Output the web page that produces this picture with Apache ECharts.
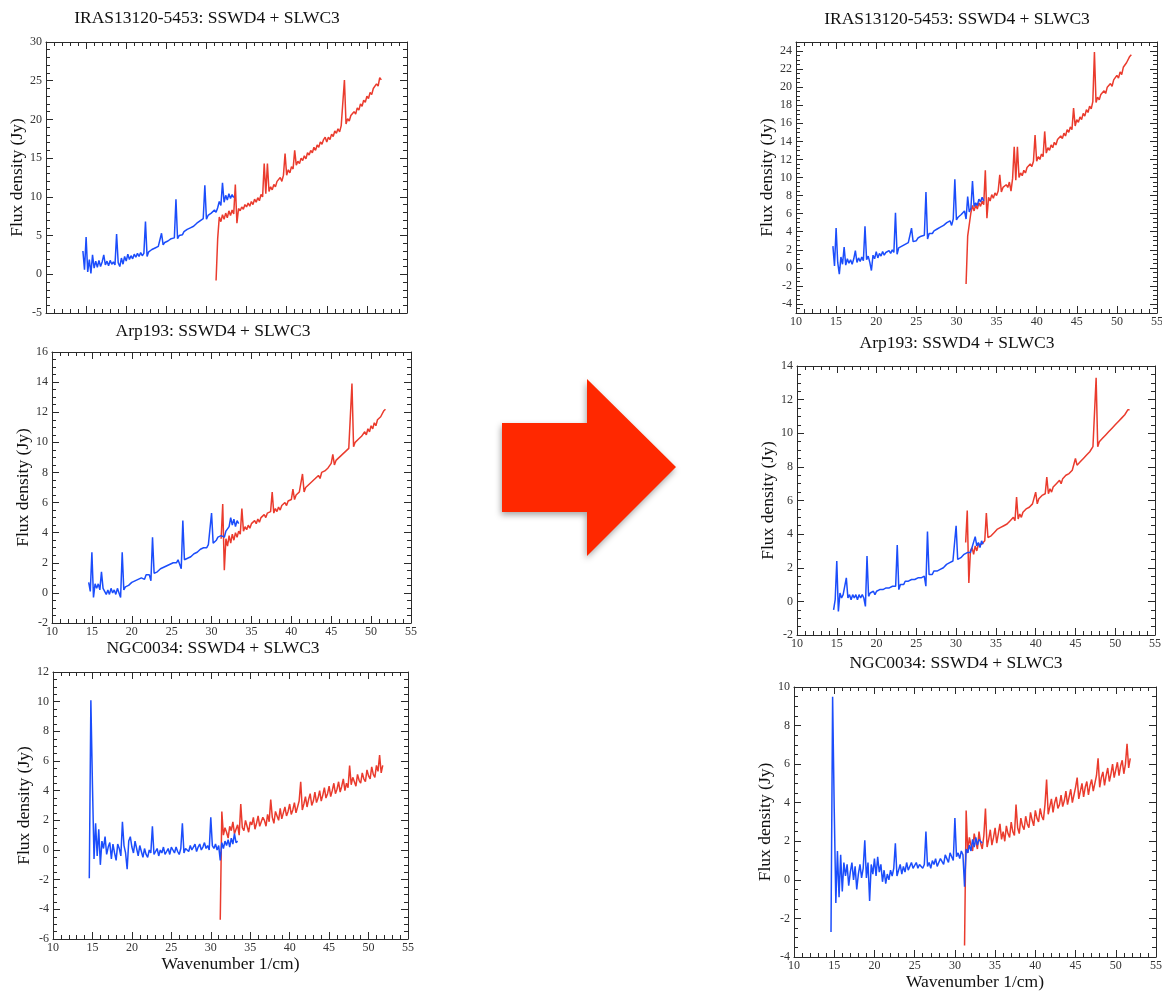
<!DOCTYPE html>
<html>
<head>
<meta charset="utf-8">
<script src="https://cdn.jsdelivr.net/npm/echarts@6/dist/echarts.min.js"></script>
<style>
  html, body { margin: 0; padding: 0; background: #ffffff; }
  #chart { width: 1162px; height: 992px; }
</style>
</head>
<body>
<div id="chart"></div>
<script>
// Wavenumber grids (1/cm) of the two SPIRE FTS detectors
const slwWavenumber = [
  14.6, 14.8, 15.0, 15.2, 15.4, 15.6, 15.8, 16.0, 16.2, 16.4,
  16.6, 16.8, 17.0, 17.2, 17.4, 17.6, 17.8, 18.0, 18.2, 18.4,
  18.6, 18.8, 19.0, 19.2, 19.4, 19.6, 19.8, 20.0, 20.2, 20.4,
  20.6, 20.8, 21.0, 21.2, 21.4, 21.6, 21.8, 22.0, 22.2, 22.4,
  22.6, 22.8, 23.0, 23.2, 23.4, 23.6, 23.8, 24.0, 24.2, 24.4,
  24.6, 24.8, 25.0, 25.2, 25.4, 25.6, 25.8, 26.0, 26.2, 26.4,
  26.6, 26.8, 27.0, 27.2, 27.4, 27.6, 27.8, 28.0, 28.2, 28.4,
  28.6, 28.8, 29.0, 29.2, 29.4, 29.6, 29.8, 30.0, 30.2, 30.4,
  30.6, 30.8, 31.0, 31.2, 31.4, 31.6, 31.8, 32.0, 32.2, 32.4,
  32.6, 32.8, 33.0, 33.2, 33.4
];
const sswWavenumber = [
  31.2, 31.4, 31.6, 31.8, 32.0, 32.2, 32.4, 32.6, 32.8, 33.0,
  33.2, 33.4, 33.6, 33.8, 34.0, 34.2, 34.4, 34.6, 34.8, 35.0,
  35.2, 35.4, 35.6, 35.8, 36.0, 36.2, 36.4, 36.6, 36.8, 37.0,
  37.2, 37.4, 37.6, 37.8, 38.0, 38.2, 38.4, 38.6, 38.8, 39.0,
  39.2, 39.4, 39.6, 39.8, 40.0, 40.2, 40.4, 40.6, 40.8, 41.0,
  41.2, 41.4, 41.6, 41.8, 42.0, 42.2, 42.4, 42.6, 42.8, 43.0,
  43.2, 43.4, 43.6, 43.8, 44.0, 44.2, 44.4, 44.6, 44.8, 45.0,
  45.2, 45.4, 45.6, 45.8, 46.0, 46.2, 46.4, 46.6, 46.8, 47.0,
  47.2, 47.4, 47.6, 47.8, 48.0, 48.2, 48.4, 48.6, 48.8, 49.0,
  49.2, 49.4, 49.6, 49.8, 50.0, 50.2, 50.4, 50.6, 50.8, 51.0,
  51.2, 51.4, 51.6, 51.8
];

// Flux density (Jy) -- earlier reduction
const irasSlwOld = [
  3.0, 0.6, 4.8, 0.3, 1.9, 0.1, 2.5, 0.8, 1.7, 0.9,
  1.8, 1.0, 1.6, 2.5, 1.2, 1.7, 1.1, 1.8, 1.3, 1.6,
  1.2, 5.2, 1.5, 1.0, 2.1, 1.3, 2.3, 1.7, 2.6, 1.9,
  2.4, 2.0, 2.6, 2.2, 2.7, 2.3, 2.8, 2.4, 2.7, 6.8,
  2.3, 2.9, 2.8, 3.2, 3.0, 3.4, 3.3, 3.6, 3.5, 5.3,
  3.8, 4.1, 4.0, 4.3, 4.2, 4.6, 4.5, 4.7, 9.7, 4.6,
  5.0, 5.2, 5.1, 5.5, 5.4, 5.8, 5.6, 6.0, 5.9, 6.2,
  6.3, 6.6, 6.5, 6.9, 6.8, 7.2, 11.5, 7.1, 7.6, 7.4,
  7.9, 7.7, 8.3, 8.0, 8.6, 9.4, 8.9, 11.8, 9.3, 10.2,
  9.6, 10.4, 9.8, 10.3, 9.9
];
const irasSswOld = [
  -0.8, 4.6, 7.4, 6.8, 7.7, 7.1, 7.9, 7.3, 8.2, 7.6,
  8.3, 7.8, 11.6, 6.6, 8.5, 8.2, 8.7, 8.4, 9.0, 8.7,
  9.2, 8.8, 9.4, 9.0, 9.7, 9.3, 9.9, 9.5, 10.3, 10.0,
  14.3, 10.4, 14.3, 10.7, 11.3, 10.9, 11.6, 11.3, 12.0, 11.8,
  12.5, 12.0, 12.8, 15.6, 12.8, 13.5, 13.1, 13.9, 13.6, 16.0,
  14.1, 14.6, 14.3, 15.0, 14.7, 15.3, 14.9, 15.7, 15.4, 16.0,
  15.7, 16.4, 16.0, 16.7, 16.4, 17.1, 16.8, 17.4, 17.7, 17.1,
  17.7, 17.4, 18.1, 17.8, 18.5, 18.2, 18.8, 18.4, 19.2, 19.0,
  25.1, 19.4, 20.1, 19.8, 20.5, 20.3, 21.0, 20.7, 21.5, 21.2,
  22.0, 21.7, 22.5, 22.2, 23.0, 22.7, 23.5, 23.2, 24.0, 23.8,
  24.6, 24.3, 25.4, 25.1
];
const arpSlwOld = [
  0.7, 0.1, 2.7, -0.3, 0.6, 0.3, 0.6, 0.2, 1.4, 0.3,
  0.1, -0.1, 0.2, -0.1, 0.3, 0.0, 0.2, -0.1, 0.3, 0.0,
  -0.3, 2.7, 0.2, 0.4, 0.3, 0.5, 0.4, 0.7, 0.6, 0.8,
  0.7, 0.9, 0.8, 1.0, 1.1, 0.9, 1.2, 1.1, 1.2, 0.8,
  3.7, 1.3, 1.4, 1.4, 1.5, 1.6, 1.5, 1.7, 1.7, 1.8,
  1.9, 1.9, 2.0, 2.0, 2.1, 2.0, 2.2, 2.1, 1.6, 4.8,
  2.2, 2.3, 2.3, 2.4, 2.4, 2.5, 2.6, 2.6, 2.7, 2.8,
  2.9, 2.9, 3.0, 3.1, 3.0, 3.2, 3.1, 5.3, 3.3, 3.4,
  3.5, 3.7, 3.6, 3.8, 3.9, 3.7, 4.1, 4.0, 4.4, 5.0,
  4.5, 4.9, 4.4, 4.8, 4.6
];
const arpSswOld = [
  3.6, 5.9, 1.5, 3.6, 3.1, 3.8, 3.3, 3.9, 3.5, 4.0,
  3.7, 4.1, 3.9, 5.6, 4.1, 4.4, 4.2, 4.5, 4.3, 4.6,
  4.5, 4.8, 4.6, 4.9, 4.7, 5.0, 4.9, 5.2, 5.0, 5.3,
  5.2, 5.4, 6.7, 5.3, 5.6, 5.4, 5.7, 5.5, 5.8, 5.7,
  6.0, 5.8, 6.1, 6.0, 6.2, 6.9, 6.2, 6.5, 6.4, 6.7,
  6.6, 7.9, 6.7, 7.0, 6.9, 7.2, 7.1, 7.4, 7.3, 7.6,
  7.5, 7.8, 7.6, 8.0, 7.9, 8.1, 8.1, 8.3, 8.2, 8.6,
  9.2, 8.5, 8.8, 8.7, 9.0, 8.9, 9.2, 9.1, 9.4, 9.3,
  9.6, 9.5, 13.9, 9.7, 10.0, 9.9, 10.2, 10.1, 10.4, 10.4,
  10.7, 10.5, 10.9, 10.7, 11.1, 10.9, 11.3, 11.1, 11.5, 11.4,
  11.7, 11.7, 12.1, 12.2
];
const ngcSlwOld = [
  -1.9, 10.1, 4.4, -0.6, 1.8, -0.4, 1.4, -1.0, 0.6, 0.1,
  0.9, -0.3, 0.2, 0.5, -0.6, 0.4, -0.2, -0.7, 0.4, 0.1,
  -0.4, 1.9, 0.3, -0.2, -1.3, 0.6, 0.9, 0.2, -0.2, 0.6,
  0.1, -0.4, 0.3, -0.1, -0.5, 0.1, -0.3, -0.5, 0.0, -0.2,
  1.6, -0.3, -0.1, 0.1, -0.4, 0.0, -0.2, 0.2, -0.3, -0.1,
  0.1, -0.3, 0.2, 0.0, -0.2, 0.2, -0.1, -0.3, 0.1, 1.8,
  -0.2, 0.1, 0.2, -0.1, 0.3, 0.0, 0.1, 0.4, -0.1, 0.2,
  0.4, 0.0, 0.2, 0.5, 0.1, 0.3, 0.0, 2.2, 0.3, 0.1,
  0.4, 0.0, 0.3, -0.7, 0.5, 0.1, 0.6, 0.3, 0.7, 0.2,
  0.8, 0.4, 1.1, 0.5, 0.6
];
const ngcSswOld = [
  -4.7, 2.6, 1.0, 1.5, 1.2, 0.8, 1.6, 1.3, 1.9, 1.1,
  1.4, 1.7, 1.0, 3.1, 1.5, 1.3, 2.0, 1.6, 1.2, 1.9,
  1.7, 2.2, 1.4, 1.8, 2.3, 1.6, 1.5, 2.2, 2.0, 1.6,
  2.4, 1.9, 3.4, 2.2, 1.8, 2.6, 2.3, 2.0, 2.8, 2.1,
  2.5, 2.9, 2.3, 2.6, 3.1, 2.4, 2.7, 3.2, 2.5, 2.9,
  3.3, 4.6, 2.7, 3.1, 3.6, 2.9, 3.4, 3.8, 3.0, 3.3,
  3.9, 3.2, 3.5, 4.0, 3.3, 3.7, 4.2, 3.5, 3.8, 4.3,
  3.6, 4.0, 4.5, 3.8, 4.1, 4.6, 3.9, 4.3, 4.8, 4.0,
  4.5, 4.2, 5.7, 4.4, 4.9, 4.6, 4.3, 5.1, 4.7, 4.5,
  5.2, 4.8, 4.6, 5.4, 5.0, 4.8, 5.6, 5.1, 4.9, 5.7,
  5.3, 6.4, 5.2, 5.7
];

// Flux density (Jy) -- updated reduction
const irasSlwNew = [
  2.4, 0.2, 4.4, 0.6, -0.7, 1.2, 0.4, 2.3, 0.3, 1.0,
  0.5, 0.9, 0.4, 1.0, 1.9, 0.6, 1.1, 0.7, 1.2, 0.8,
  4.6, 0.9, 1.3, 0.6, -0.3, 1.4, 1.0, 1.8, 1.1, 1.6,
  1.3, 1.8, 1.4, 1.7, 1.5, 1.9, 1.6, 2.0, 1.7, 6.1,
  1.5, 2.2, 2.0, 2.4, 2.2, 2.6, 2.5, 2.8, 2.6, 4.4,
  2.9, 3.1, 3.0, 3.3, 3.2, 3.5, 3.3, 3.6, 8.4, 3.2,
  3.8, 3.9, 3.8, 4.1, 4.0, 4.3, 4.2, 4.5, 4.4, 4.7,
  4.6, 5.0, 4.8, 5.2, 4.7, 5.4, 9.8, 5.3, 5.6, 5.7,
  5.9, 6.0, 6.3, 5.4, 7.9, 6.2, 6.6, 9.6, 6.8, 7.2,
  6.9, 7.6, 7.3, 7.8, 7.4
];
const irasSswNew = [
  -1.8, 3.5, 3.6, 6.1, 6.9, 6.3, 7.0, 6.5, 7.2, 6.8,
  7.4, 7.0, 10.8, 5.5, 7.8, 7.4, 8.1, 7.7, 8.3, 8.0,
  8.5, 10.3, 8.4, 8.9, 8.7, 9.2, 8.9, 9.5, 8.5, 9.9,
  13.4, 9.7, 13.4, 10.0, 10.5, 10.2, 10.8, 10.5, 11.1, 10.9,
  11.5, 11.2, 11.8, 14.7, 11.8, 12.3, 12.0, 12.6, 12.3, 15.1,
  12.7, 13.3, 13.0, 13.6, 13.3, 13.9, 13.6, 14.2, 14.0, 14.6,
  14.3, 14.9, 14.6, 15.3, 15.0, 15.6, 15.3, 17.7, 15.7, 16.4,
  16.1, 16.7, 16.4, 17.1, 16.8, 17.5, 17.2, 17.9, 17.6, 18.4,
  23.9, 18.3, 18.9, 18.6, 19.2, 19.0, 19.6, 19.3, 20.0, 19.8,
  20.4, 20.1, 20.8, 20.6, 21.3, 21.0, 21.7, 21.4, 22.2, 22.0,
  22.7, 22.5, 23.4, 23.6
];
const arpSlwNew = [
  -0.5, 0.1, 2.4, -0.6, 0.5, 0.2, 0.4, 0.3, 1.4, 0.2,
  0.4, 0.1, 0.4, 0.2, 0.4, 0.1, 0.4, 0.2, 0.4, 0.2,
  -0.3, 2.7, 0.3, 0.5, 0.4, 0.6, 0.4, 0.6, 0.5, 0.7,
  0.6, 0.7, 0.6, 0.8, 0.7, 0.8, 0.8, 0.9, 0.8, 0.9,
  3.35, 0.7, 1.0, 1.1, 1.0, 1.2, 1.1, 1.2, 1.2, 1.3,
  1.3, 1.3, 1.4, 1.4, 1.5, 1.4, 1.5, 1.5, 0.9, 4.15,
  1.6, 1.7, 1.6, 1.8, 1.7, 1.8, 1.9, 1.9, 2.0, 2.0,
  2.1, 2.2, 2.2, 2.3, 2.3, 2.4, 2.3, 4.5, 2.5, 2.6,
  2.6, 2.7, 2.8, 2.7, 2.9, 3.0, 2.9, 3.2, 3.1, 3.85,
  3.3, 3.5, 3.2, 3.6, 3.4
];
const arpSswNew = [
  3.5, 5.4, 1.1, 3.0, 3.2, 2.8, 3.3, 3.0, 3.4, 3.3,
  3.4, 3.5, 3.6, 5.25, 3.8, 3.7, 3.9, 3.9, 4.1, 4.1,
  4.3, 4.2, 4.4, 4.4, 4.5, 4.5, 4.6, 4.6, 4.8, 4.7,
  5.0, 4.8, 6.2, 4.9, 5.2, 5.0, 5.3, 5.2, 5.5, 5.4,
  5.6, 5.5, 5.8, 5.7, 6.5, 5.8, 6.1, 6.0, 6.3, 6.2,
  6.4, 7.4, 6.4, 6.7, 6.5, 6.8, 6.7, 7.0, 6.9, 7.2,
  7.0, 7.3, 7.2, 7.5, 7.4, 7.6, 7.5, 7.8, 7.7, 8.5,
  8.1, 8.0, 8.3, 8.2, 8.5, 8.4, 8.7, 8.6, 8.9, 8.9,
  9.2, 9.1, 13.3, 9.2, 9.5, 9.4, 9.7, 9.6, 9.9, 9.8,
  10.1, 10.0, 10.3, 10.2, 10.5, 10.4, 10.7, 10.6, 10.9, 10.8,
  11.1, 11.0, 11.4, 11.4
];
const ngcSlwNew = [
  -2.7, 9.5, 3.7, -1.2, 1.5, -0.9, 1.3, -0.6, 0.9, 0.2,
  0.8, -0.3, 0.4, 0.9, 0.0, 0.7, -0.5, 0.3, 0.8, 0.1,
  0.6, 2.05, 0.1, 0.9, -1.1, 0.8, 0.3, 1.1, 0.2, 1.2,
  0.4, 0.8, -0.1, 0.5, -0.2, 0.3, 0.0, 0.5, 0.2, 0.6,
  1.9, 0.2, 0.5, 0.8, 0.3, 0.7, 0.4, 0.9, 0.5, 0.4,
  0.9, 0.6, 0.5, 0.9, 0.6, 0.8, 0.7, 0.6, 0.8, 2.5,
  0.7, 0.9, 0.6, 1.0, 0.8, 1.1, 0.7, 0.9, 1.1, 1.2,
  0.8, 1.3, 1.1, 0.9, 1.4, 1.2, 1.0, 3.2, 1.2, 1.4,
  1.1, 1.5, 1.3, -0.35, 1.6, 1.4, 1.8, 1.5, 2.1, 1.7,
  2.2, 1.8, 2.1, 2.0, 1.9
];
const ngcSswNew = [
  -3.4, 3.6, 1.4, 2.2, 1.8, 1.5, 2.4, 2.0, 1.6, 2.5,
  1.9, 1.6, 2.3, 3.7, 1.7, 2.1, 2.6, 1.8, 2.2, 2.7,
  1.9, 2.4, 2.9, 2.1, 2.5, 2.0, 2.8, 2.4, 2.2, 3.0,
  2.5, 2.3, 3.9, 2.7, 2.4, 3.2, 2.8, 2.6, 3.3, 2.9,
  2.7, 3.5, 3.1, 2.8, 3.6, 3.2, 3.0, 3.7, 3.3, 3.1,
  3.9, 5.2, 3.4, 3.8, 4.2, 3.5, 4.0, 4.3, 3.7, 3.9,
  4.4, 3.8, 4.1, 4.6, 3.9, 4.3, 4.7, 4.0, 4.4, 4.8,
  5.3, 4.2, 4.6, 5.0, 4.3, 4.8, 5.1, 4.4, 4.9, 5.2,
  4.6, 5.0, 5.4, 6.3, 4.8, 5.3, 5.6, 4.9, 5.4, 5.8,
  5.1, 5.5, 6.0, 5.3, 5.7, 6.1, 5.4, 5.9, 6.2, 5.5,
  6.0, 7.05, 5.8, 6.3
];

// Tick values of the y axis that starts on an odd number
const irasNewYTicks = [-4, -2, 0, 2, 4, 6, 8, 10, 12, 14, 16, 18, 20, 22, 24];

const SERIF = "'Liberation Serif', 'Times New Roman', 'DejaVu Serif', serif";
const AXIS_COLOR = '#2a2a2a';
const SLW_COLOR = '#1b4dfb';
const SSW_COLOR = '#ea3b2d';

const panels = [
  { title: 'IRAS13120-5453: SSWD4 + SLWC3', tx: 207, ty: 9, box: [46, 42, 361, 271],
    y: [-5, 30, 5, 5], xLabels: false, xName: false, slw: irasSlwOld, ssw: irasSswOld },
  { title: 'Arp193: SSWD4 + SLWC3', tx: 213, ty: 322, box: [52, 352, 359, 271],
    y: [-2, 16, 2, 4], xLabels: true, xName: false, slw: arpSlwOld, ssw: arpSswOld },
  { title: 'NGC0034: SSWD4 + SLWC3', tx: 213, ty: 639, box: [53, 672, 355, 267],
    y: [-6, 12, 2, 4], xLabels: true, xName: true, slw: ngcSlwOld, ssw: ngcSswOld },
  { title: 'IRAS13120-5453: SSWD4 + SLWC3', tx: 957, ty: 10, box: [796, 42, 361, 271],
    y: [-5, 25, 2, 4], custom: irasNewYTicks, xLabels: true, xName: false, slw: irasSlwNew, ssw: irasSswNew },
  { title: 'Arp193: SSWD4 + SLWC3', tx: 957, ty: 334, box: [797, 366, 358, 269],
    y: [-2, 14, 2, 4], xLabels: true, xName: false, slw: arpSlwNew, ssw: arpSswNew },
  { title: 'NGC0034: SSWD4 + SLWC3', tx: 956, ty: 654, box: [794, 687, 362, 270],
    y: [-4, 10, 2, 4], xLabels: true, xName: true, slw: ngcSlwNew, ssw: ngcSswNew }
];

function pairs(xs, ys) {
  return ys.map(function (v, i) { return [xs[i], v]; });
}

const lineStyleAxis = { color: AXIS_COLOR, width: 1 };
const labelStyle = { fontFamily: SERIF, fontSize: 12, color: '#333' };
const nameStyle = { fontFamily: SERIF, fontSize: 17.5, color: '#111' };

const grids = [], xAxes = [], yAxes = [], series = [], titles = [];

panels.forEach(function (p, g) {
  grids.push({ left: p.box[0], top: p.box[1], width: p.box[2], height: p.box[3],
    containLabel: false, outerBoundsMode: 'none' });
  titles.push({ text: p.title, left: p.tx, top: p.ty, textAlign: 'center', padding: 0,
    textStyle: { fontFamily: SERIF, fontSize: 17.5, fontWeight: 'normal', color: '#111' } });

  ['bottom', 'top'].forEach(function (pos) {
    const main = pos === 'bottom';
    xAxes.push({
      type: 'value', gridIndex: g, position: pos, min: 10, max: 55, interval: 5,
      axisLine: { show: true, onZero: false, lineStyle: lineStyleAxis },
      axisTick: { show: true, inside: true, length: 7, lineStyle: lineStyleAxis },
      minorTick: { show: true, splitNumber: 5, length: 4, lineStyle: lineStyleAxis },
      splitLine: { show: false },
      axisLabel: Object.assign({ show: main && p.xLabels, margin: 3,
        showMinLabel: true, showMaxLabel: true, hideOverlap: false }, labelStyle),
      name: main && p.xName ? 'Wavenumber 1/cm)' : '',
      nameLocation: 'middle', nameGap: 16, nameTextStyle: nameStyle
    });
  });

  const ymin = p.y[0], ymax = p.y[1], step = p.y[2], minorSplit = p.y[3];
  ['left', 'right'].forEach(function (pos) {
    const main = pos === 'left';
    if (p.custom) {
      yAxes.push({
        type: 'value', gridIndex: g, position: pos, min: ymin, max: ymax, interval: 1,
        axisLine: { show: true, onZero: false, lineStyle: lineStyleAxis },
        axisTick: { show: true, inside: true, length: 7, lineStyle: lineStyleAxis, customValues: p.custom },
        splitLine: { show: false },
        axisLabel: Object.assign({ show: main, margin: 4, customValues: p.custom }, labelStyle),
        name: main ? 'Flux density (Jy)' : '',
        nameLocation: 'middle', nameGap: 20, nameTextStyle: nameStyle
      });
      // half-unit minor ticks
      yAxes.push({
        type: 'value', gridIndex: g, position: pos, min: ymin, max: ymax, interval: step / minorSplit,
        axisLine: { show: false },
        axisTick: { show: true, inside: true, length: 4, lineStyle: lineStyleAxis },
        splitLine: { show: false },
        axisLabel: { show: false }
      });
    } else {
      yAxes.push({
        type: 'value', gridIndex: g, position: pos, min: ymin, max: ymax, interval: step,
        axisLine: { show: true, onZero: false, lineStyle: lineStyleAxis },
        axisTick: { show: true, inside: true, length: 7, lineStyle: lineStyleAxis },
        minorTick: { show: true, splitNumber: minorSplit, length: 4, lineStyle: lineStyleAxis },
        splitLine: { show: false },
        axisLabel: Object.assign({ show: main, margin: 4,
          showMinLabel: true, showMaxLabel: true, hideOverlap: false }, labelStyle),
        name: main ? 'Flux density (Jy)' : '',
        nameLocation: 'middle', nameGap: 20, nameTextStyle: nameStyle
      });
    }
  });

  const xIdx = xAxes.length - 2;
  // the first y axis added for this panel is the left, labelled one
  const yIdx = yAxes.findIndex(function (a) { return a.gridIndex === g; });

  series.push({
    type: 'line', name: 'SSWD4', xAxisIndex: xIdx, yAxisIndex: yIdx,
    data: pairs(sswWavenumber, p.ssw), showSymbol: false, symbol: 'none',
    lineStyle: { color: SSW_COLOR, width: 1.5 }, silent: true, animation: false
  });
  series.push({
    type: 'line', name: 'SLWC3', xAxisIndex: xIdx, yAxisIndex: yIdx,
    data: pairs(slwWavenumber, p.slw), showSymbol: false, symbol: 'none',
    lineStyle: { color: SLW_COLOR, width: 1.5 }, silent: true, animation: false
  });
});

const chart = echarts.init(document.getElementById('chart'), null, { renderer: 'canvas' });
chart.setOption({
  backgroundColor: '#ffffff',
  animation: false,
  title: titles,
  grid: grids,
  xAxis: xAxes,
  yAxis: yAxes,
  series: series,
  graphic: [{
    type: 'polygon',
    shape: { points: [[502, 423], [587, 423], [587, 379], [676, 467], [587, 556], [587, 512], [502, 512]] },
    style: { fill: '#ff2800', shadowBlur: 6, shadowColor: 'rgba(0,0,0,0.35)', shadowOffsetX: -1, shadowOffsetY: 3 },
    silent: true
  }]
});
</script>
</body>
</html>
